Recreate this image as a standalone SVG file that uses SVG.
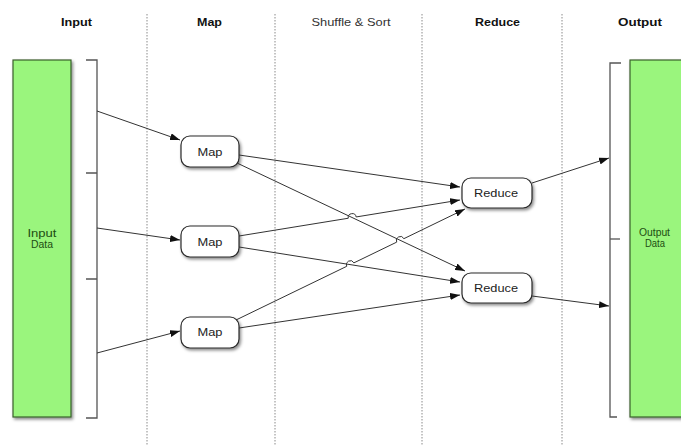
<svg xmlns="http://www.w3.org/2000/svg" width="681" height="446" viewBox="0 0 681 446">
<style>
.hdr{font-family:"Liberation Sans",Arial,sans-serif;font-size:11px;font-weight:bold;fill:#111;text-anchor:middle}
.hdr2{font-family:"Liberation Sans",Arial,sans-serif;font-size:11px;fill:#333;text-anchor:middle}
.sep{stroke:#8a8a8a;stroke-width:1;stroke-dasharray:1.5,1.5;fill:none}
.data{fill:#9af57d;stroke:#3a5f2c;stroke-width:1.2}
.dtxt{font-family:"Liberation Sans",Arial,sans-serif;font-size:10px;fill:#1d4d12;text-anchor:middle}
.node{fill:#ffffff;stroke:#2a2a2a;stroke-width:1.2}
.ntxt{font-family:"Liberation Sans",Arial,sans-serif;font-size:10.5px;fill:#222;text-anchor:middle}
.brk{stroke:#555;stroke-width:1.3;fill:none}
.edge{stroke:#333;stroke-width:1;fill:none}
</style>
<defs>
<marker id="arr" markerUnits="userSpaceOnUse" markerWidth="10" markerHeight="7" refX="10" refY="3.5" orient="auto">
<path d="M0,0 L10,3.5 L0,7 z" fill="#111"/>
</marker>
<filter id="sh" x="-20%" y="-20%" width="150%" height="150%">
<feDropShadow dx="1.5" dy="2" stdDeviation="1.5" flood-color="#000" flood-opacity="0.45"/>
</filter>
</defs>
<rect width="681" height="446" fill="#ffffff"/>

<g id="headers">
<text class="hdr" x="76.5" y="26" textLength="31" lengthAdjust="spacingAndGlyphs">Input</text>
<text class="hdr" x="209.5" y="26" textLength="25" lengthAdjust="spacingAndGlyphs">Map</text>
<text class="hdr2" x="351" y="26" textLength="79" lengthAdjust="spacingAndGlyphs">Shuffle &amp; Sort</text>
<text class="hdr" x="497.5" y="26" textLength="45" lengthAdjust="spacingAndGlyphs">Reduce</text>
<text class="hdr" x="640" y="26" textLength="44" lengthAdjust="spacingAndGlyphs">Output</text>
</g>

<g id="separators">
<line class="sep" x1="147" y1="14" x2="147" y2="446"/>
<line class="sep" x1="275" y1="14" x2="275" y2="446"/>
<line class="sep" x1="422" y1="14" x2="422" y2="446"/>
<line class="sep" x1="562" y1="14" x2="562" y2="446"/>
</g>

<g id="input-data">
<rect class="data" x="13" y="60" width="58" height="357" filter="url(#sh)"/>
<text class="dtxt" x="42" y="237" textLength="29" lengthAdjust="spacingAndGlyphs">Input</text>
<text class="dtxt" x="42" y="248" textLength="22" lengthAdjust="spacingAndGlyphs">Data</text>
</g>

<g id="input-bracket">
<path class="brk" d="M86,60 H97 V418 H86"/>
<path class="brk" d="M86,173 H97 M86,279 H97"/>
</g>

<g id="output-data">
<rect class="data" x="630" y="60" width="60" height="357" filter="url(#sh)"/>
<text class="dtxt" x="654.5" y="236" textLength="31" lengthAdjust="spacingAndGlyphs">Output</text>
<text class="dtxt" x="655" y="247" textLength="20" lengthAdjust="spacingAndGlyphs">Data</text>
</g>

<g id="output-bracket">
<path class="brk" d="M621,63 H610 V417 H617"/>
<path class="brk" d="M610,239 H620"/>
</g>

<g id="map1">
<rect class="node" x="181" y="136" width="58" height="31" rx="9" filter="url(#sh)"/>
<text class="ntxt" x="210" y="156" textLength="25" lengthAdjust="spacingAndGlyphs">Map</text>
</g>
<g id="map2">
<rect class="node" x="181" y="226" width="58" height="31" rx="9" filter="url(#sh)"/>
<text class="ntxt" x="210" y="245.5" textLength="25" lengthAdjust="spacingAndGlyphs">Map</text>
</g>
<g id="map3">
<rect class="node" x="181" y="317" width="58" height="31" rx="9" filter="url(#sh)"/>
<text class="ntxt" x="210" y="335.5" textLength="25" lengthAdjust="spacingAndGlyphs">Map</text>
</g>
<g id="reduce1">
<rect class="node" x="462" y="178" width="70" height="30" rx="9" filter="url(#sh)"/>
<text class="ntxt" x="496" y="197" textLength="44" lengthAdjust="spacingAndGlyphs">Reduce</text>
</g>
<g id="reduce2">
<rect class="node" x="462" y="273" width="70" height="30" rx="9" filter="url(#sh)"/>
<text class="ntxt" x="496" y="292" textLength="44" lengthAdjust="spacingAndGlyphs">Reduce</text>
</g>

<g id="connectors">
<line class="edge" x1="97" y1="111" x2="180" y2="140" marker-end="url(#arr)"/>
<line class="edge" x1="97" y1="228" x2="180" y2="240" marker-end="url(#arr)"/>
<line class="edge" x1="97" y1="353" x2="180" y2="331" marker-end="url(#arr)"/>

<line class="edge" x1="239" y1="155" x2="460" y2="187" marker-end="url(#arr)"/>
<line class="edge" x1="237" y1="163" x2="465" y2="271" marker-end="url(#arr)"/>
<path class="edge" d="M239,236 L348.25,218.24 A4,4 0 0 1 356.15,216.96 L460,200" marker-end="url(#arr)"/>
<line class="edge" x1="239" y1="247" x2="460" y2="282" marker-end="url(#arr)"/>
<path class="edge" d="M236,320 L346.7,266.34 A4,4 0 0 1 353.9,262.86 L396.7,242.14 A4,4 0 0 1 403.9,238.66 L465,209" marker-end="url(#arr)"/>
<line class="edge" x1="239" y1="328" x2="460" y2="295" marker-end="url(#arr)"/>

<line class="edge" x1="532" y1="183" x2="609" y2="158" marker-end="url(#arr)"/>
<line class="edge" x1="532" y1="296" x2="609" y2="306" marker-end="url(#arr)"/>
</g>
</svg>
